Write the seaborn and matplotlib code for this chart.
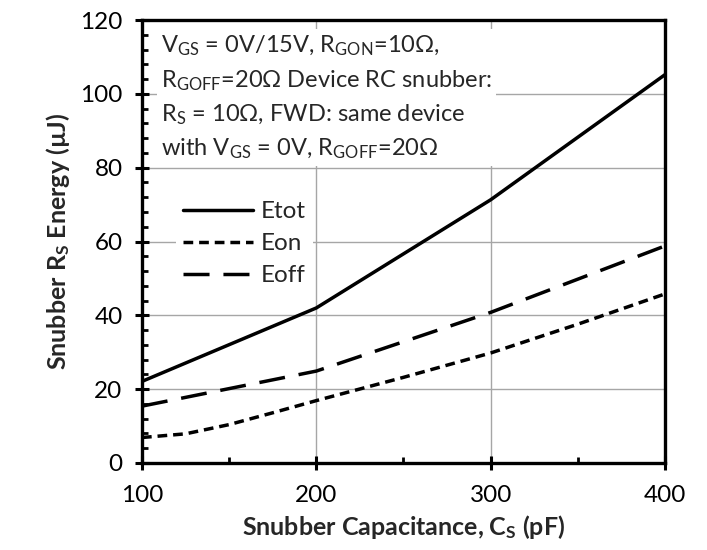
import numpy as np
import pandas as pd
import matplotlib
matplotlib.use("Agg")
import matplotlib.pyplot as plt
from matplotlib.ticker import MultipleLocator
import seaborn as sns

# values
cs_main = [100, 200, 300, 400]
etot = [22.1, 42.0, 71.3, 105.2]
eoff = [15.4, 24.9, 40.8, 58.8]
cs_eon = [100, 125, 150, 175, 200, 250, 300, 350, 400]
eon = [6.9, 7.9, 10.4, 13.6, 16.9, 23.2, 29.8, 37.6, 45.8]

sns.set_theme(style="white")
plt.rcParams['font.family'] = ['Lato', 'DejaVu Sans']
plt.rcParams['mathtext.fontset'] = 'custom'
plt.rcParams['mathtext.rm'] = 'Lato'

fig = plt.figure(figsize=(7.07, 5.5), dpi=100)
ax = fig.add_axes([0.2008, 0.1582, 0.7398, 0.8054])

lw = 2.5
sns.lineplot(x=cs_main, y=etot, ax=ax, color='black', lw=lw, label='Etot', zorder=3)
sns.lineplot(x=cs_eon, y=eon, ax=ax, color='black', lw=lw, label='Eon', zorder=3)
sns.lineplot(x=cs_main, y=eoff, ax=ax, color='black', lw=lw, label='Eoff', zorder=3)
ax.lines[1].set_dashes([2.8, 1.7])
ax.lines[2].set_dashes([7.5, 4.0])

ax.set_xlim(100, 400)
ax.set_ylim(0, 120)
ax.xaxis.set_major_locator(MultipleLocator(100))
ax.xaxis.set_minor_locator(MultipleLocator(50))
ax.yaxis.set_major_locator(MultipleLocator(20))
ax.yaxis.set_minor_locator(MultipleLocator(4))
ax.grid(True, which='major', color='#a6a6a6', lw=1.0, zorder=0)
ax.set_axisbelow(True)
for s in ax.spines.values():
    s.set_color('black')
    s.set_linewidth(2.4)
ax.tick_params(which='major', direction='inout', length=10, width=2.2,
               labelsize=17.5, color='black', labelcolor='black')
ax.tick_params(axis='x', which='major', pad=11)
ax.tick_params(axis='y', which='major', pad=9)
ax.tick_params(which='minor', direction='in', length=4.5, width=2.0, color='black')
ax.tick_params(axis='x', which='both', bottom=True)
ax.tick_params(axis='y', which='both', left=True)

ax.set_xlabel(r'Snubber Capacitance, C$\mathregular{_S}$ (pF)', fontsize=18,
              fontweight='bold', labelpad=5)
ax.set_ylabel(r'Snubber R$\mathregular{_S}$ Energy (µJ)', fontsize=18,
              fontweight='bold', labelpad=6)

note = (r'V$\mathregular{_{GS}}$ = 0V/15V, R$\mathregular{_{GON}}$=10Ω,' '\n'
        r'R$\mathregular{_{GOFF}}$=20Ω Device RC snubber:' '\n'
        r'R$\mathregular{_S}$ = 10Ω, FWD: same device' '\n'
        r'with V$\mathregular{_{GS}}$ = 0V, R$\mathregular{_{GOFF}}$=20Ω')
ax.text(0.036, 0.97, note, transform=ax.transAxes, fontsize=17, va='top', ha='left',
        linespacing=1.55, zorder=4,
        bbox=dict(facecolor='white', edgecolor='none', pad=3))

leg = ax.legend(loc='upper left', bbox_to_anchor=(0.042, 0.635), fontsize=17.5,
                handlelength=2.85, handletextpad=0.35, labelspacing=0.45,
                frameon=True, fancybox=False, borderpad=0.3)
leg.get_frame().set_facecolor('white')
leg.get_frame().set_edgecolor('none')
leg.get_frame().set_alpha(1)
leg.set_zorder(5)

fig.savefig('out.png', dpi=100)
